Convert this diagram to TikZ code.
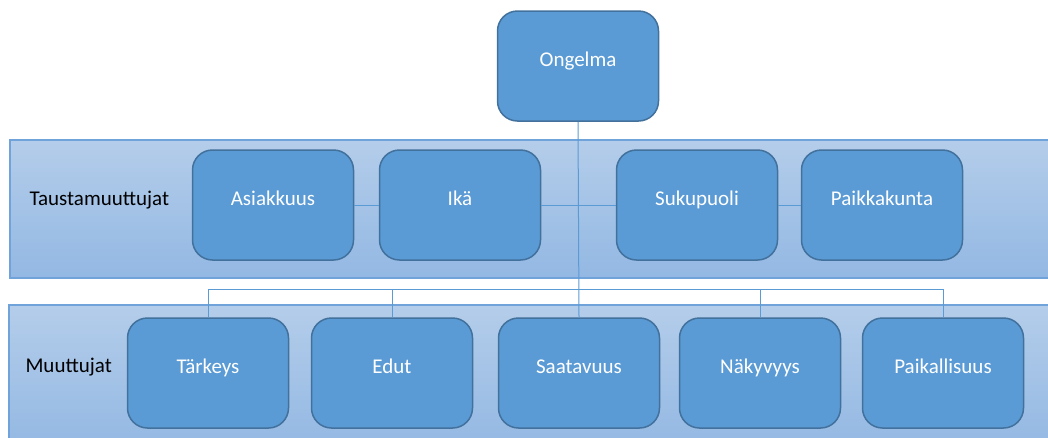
\documentclass[tikz,border=0pt]{standalone}
\usepackage{fontspec}
\setmainfont{Carlito}
\usepackage{tikz}
\usetikzlibrary{positioning}
\definecolor{NodeBlue}{HTML}{5B9BD5}
\definecolor{NodeEdge}{HTML}{41719C}
\definecolor{BandTop}{HTML}{B4CDEA}
\definecolor{BandBottom}{HTML}{93B8E3}
\definecolor{BandEdge}{HTML}{6FA3DA}
\definecolor{LinkBlue}{HTML}{5B9BD5}

\tikzset{
  box/.style={draw=NodeEdge, line width=1.5pt, fill=NodeBlue, rounded corners=20pt,
    minimum width=161pt, minimum height=110pt, inner sep=0pt,
    text=white, font=\fontsize{21}{25}\selectfont, text height=14pt, text depth=14pt},
  band/.style={draw=BandEdge, line width=1.5pt, top color=BandTop, bottom color=BandBottom},
  link/.style={draw=LinkBlue, line width=1pt},
  bandlabel/.style={anchor=base west, font=\fontsize{21}{25}\selectfont, text=black}
}

\begin{document}
\begin{tikzpicture}[x=1pt, y=-1pt]
    \useasboundingbox (0,0) rectangle (1048,437);
    \clip (0,0) rectangle (1048,437);

    % bands
    \path[band] (10,140) rectangle (1060,278);
    \path[band] (9,305) rectangle (1060,450);
    \node[bandlabel] (tausta) at (26,205) {Taustamuuttujat};
    \node[bandlabel] (muuttujat) at (22,372) {Muuttujat};

    % boxes
    \node[box] (ongelma) at (578,66) {Ongelma};
    \foreach \x/\name/\txt in {273/asiakkuus/Asiakkuus, 460/ika/Ikä, 697/sukupuoli/Sukupuoli, 882/paikkakunta/Paikkakunta} {
        \node[box] (\name) at (\x,205) {\txt};
    }
    \foreach \x/\name/\txt in {208/tarkeys/Tärkeys, 392/edut/Edut, 579/saatavuus/Saatavuus, 760/nakyvyys/Näkyvyys, 943/paikallisuus/Paikallisuus} {
        \node[box] (\name) at (\x,373) {\txt};
    }

    % connectors
    \coordinate (bus) at (579,289);
    \draw[link] (ongelma.south) -- (saatavuus.north);
    \draw[link] (asiakkuus.east) -- (ika.west);
    \draw[link] (ika.east) -- (sukupuoli.west);
    \draw[link] (sukupuoli.east) -- (paikkakunta.west);
    \draw[link] (tarkeys.north) |- (bus) -| (paikallisuus.north);
    \draw[link] (edut.north) |- (bus);
    \draw[link] (nakyvyys.north) |- (bus);
\end{tikzpicture}
\end{document}
